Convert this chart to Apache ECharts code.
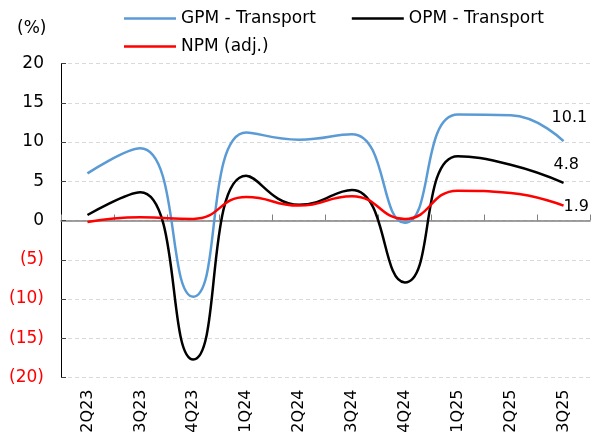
<!DOCTYPE html>
<html>
<head>
<meta charset="utf-8">
<script src="https://cdn.jsdelivr.net/npm/echarts@6/dist/echarts.min.js"></script>
<style>
  html, body { margin: 0; padding: 0; background: #fff; }
  #margins { width: 592px; height: 439px; }
</style>
</head>
<body>
<div id="margins"></div>
<script>
// quarters on the x axis
const quarters = ['2Q23', '3Q23', '4Q23', '1Q24', '2Q24', '3Q24', '4Q24', '1Q25', '2Q25', '3Q25'];

// margins in %
const gpmTransport = [6.0, 9.2, -9.7, 11.2, 10.3, 11.0, -0.3, 13.5, 13.4, 10.1];
const opmTransport = [0.7, 3.6, -17.7, 5.7, 2.0, 3.9, -7.9, 8.2, 7.1, 4.8];
const npmAdj = [-0.2, 0.4, 0.2, 3.0, 1.9, 3.1, 0.2, 3.8, 3.5, 1.9];

const font = 'DejaVu Sans';

let myChart = echarts.init(document.getElementById('margins'));

// last value shown at the end of each line
function endLabel (offset) {
  return {
    show: true,
    distance: 0,
    offset: offset,
    color: '#000',
    fontFamily: font,
    fontSize: 16,
    formatter: (p) => p.value.toFixed(1)
  };
}

const legendText = { fontFamily: font, fontSize: 17, color: '#000' };

myChart.setOption({
  animation: false,
  title: {
    text: '(%)',
    left: 12,
    top: 15,
    textStyle: { fontFamily: font, fontSize: 17, fontWeight: 'normal', color: '#000' }
  },
  legend: [{
    data: ['GPM - Transport', 'OPM - Transport'],
    left: 124,
    top: 10,
    padding: 0,
    icon: 'rect',
    itemWidth: 52,
    itemHeight: 2.5,
    itemGap: 36,
    textStyle: legendText
  }, {
    data: ['NPM (adj.)'],
    left: 124,
    top: 38,
    padding: 0,
    icon: 'rect',
    itemWidth: 52,
    itemHeight: 2.5,
    textStyle: legendText
  }],
  grid: {
    left: 61,
    right: 2,
    top: 63.5,
    bottom: 61.5
  },
  xAxis: [{
    // axis line through zero, ticks only
    type: 'category',
    data: quarters,
    boundaryGap: true,
    axisLine: { onZero: true, lineStyle: { color: '#808080', width: 1.5 } },
    axisTick: { show: true, inside: true, length: 6, lineStyle: { color: '#808080' } },
    axisLabel: { show: false },
    splitLine: { show: false }
  }, {
    // labels along the bottom
    type: 'category',
    data: quarters,
    position: 'bottom',
    boundaryGap: true,
    axisLine: { show: false },
    axisTick: { show: false },
    axisLabel: {
      rotate: 90,
      margin: 12,
      fontFamily: font,
      fontSize: 16,
      color: '#000'
    }
  }],
  yAxis: {
    type: 'value',
    min: -20,
    max: 20,
    interval: 5,
    axisLine: { show: true, lineStyle: { color: '#000', width: 1 } },
    axisTick: { show: true, inside: true, length: 5, lineStyle: { color: '#404040' } },
    splitLine: {
      show: true,
      lineStyle: { color: '#d9d9d9', width: 1, type: [4, 3] }
    },
    axisLabel: {
      margin: 17,
      fontFamily: font,
      fontSize: 17,
      formatter: (v) => v < 0 ? '(' + Math.abs(v) + ')' : String(v),
      color: (v) => Number(v) < 0 ? '#ff0000' : '#000'
    }
  },
  series: [{
    name: 'GPM - Transport',
    type: 'line',
    data: gpmTransport,
    smooth: 0.5,
    symbol: 'none',
    lineStyle: { color: '#5b9bd5', width: 2.5 },
    itemStyle: { color: '#5b9bd5' },
    endLabel: endLabel([-12, -23])
  }, {
    name: 'OPM - Transport',
    type: 'line',
    data: opmTransport,
    smooth: 0.5,
    symbol: 'none',
    lineStyle: { color: '#000', width: 2.5 },
    itemStyle: { color: '#000' },
    endLabel: endLabel([-10, -18])
  }, {
    name: 'NPM (adj.)',
    type: 'line',
    data: npmAdj,
    smooth: 0.5,
    symbol: 'none',
    lineStyle: { color: '#ff0000', width: 2.5 },
    itemStyle: { color: '#ff0000' },
    endLabel: endLabel([0, 1])
  }]
});

window.addEventListener('resize', () => {
  myChart.resize();
});
</script>
</body>
</html>
